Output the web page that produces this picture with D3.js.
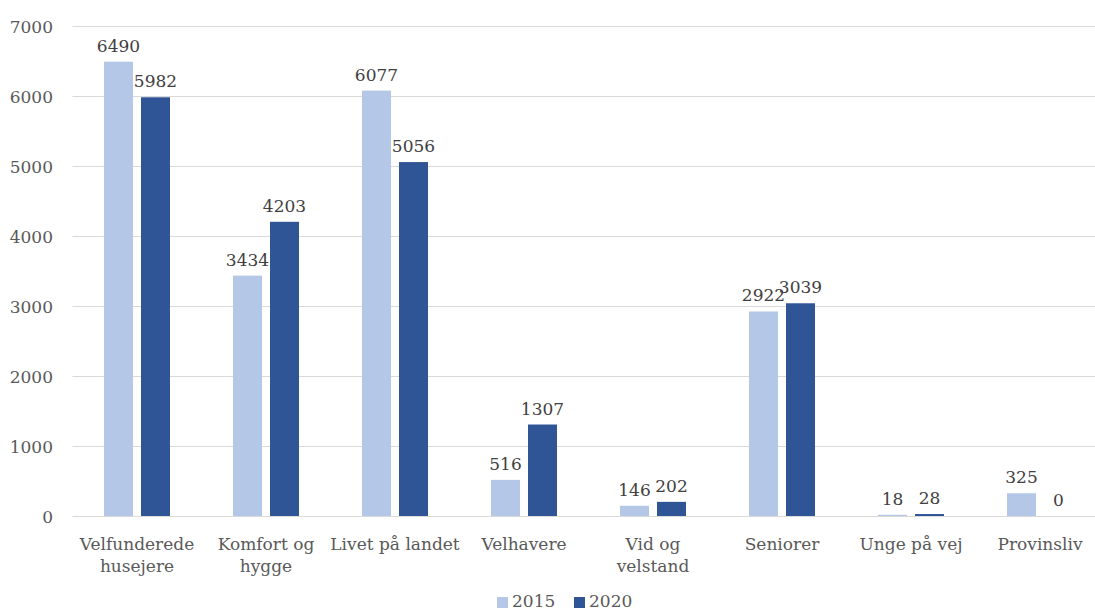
<!DOCTYPE html>
<html>
<head>
<meta charset="utf-8">
<script src="https://cdn.jsdelivr.net/npm/d3@7"></script>
<style>
  html, body { margin: 0; padding: 0; background: #fff; }
  svg { display: block; font-family: 'DejaVu Serif', serif; }
</style>
</head>
<body>
<svg id="chart" width="1095" height="610"></svg>
<script>
// chart data
const categories = [
  ['Velfunderede', 'husejere'],
  ['Komfort og', 'hygge'],
  ['Livet på landet'],
  ['Velhavere'],
  ['Vid og', 'velstand'],
  ['Seniorer'],
  ['Unge på vej'],
  ['Provinsliv'],
];
const seriesNames = ['2015', '2020'];
const values2015 = [6490, 3434, 6077, 516, 146, 2922, 18, 325];
const values2020 = [5982, 4203, 5056, 1307, 202, 3039, 28, 0];
const yTicks = [0, 1000, 2000, 3000, 4000, 5000, 6000, 7000];

const colors = ['#B4C7E7', '#2F5597'];

const svg = d3.select('#chart');
const plot = { left: 72.5, right: 1104.5, top: 26, bottom: 516 };

const x = d3.scaleBand()
  .domain(d3.range(categories.length))
  .range([plot.left, plot.right]);

const y = d3.scaleLinear()
  .domain([0, 7000])
  .range([plot.bottom, plot.top]);

const barW = 29;
const gap = 8;

// gridlines
svg.append('g')
  .selectAll('line')
  .data(yTicks)
  .enter()
  .append('line')
  .attr('x1', plot.left)
  .attr('x2', 1095)
  .attr('y1', (d) => Math.round(y(d)) + 0.5)
  .attr('y2', (d) => Math.round(y(d)) + 0.5)
  .style('stroke', '#d9d9d9')
  .style('stroke-width', 1);

// y axis labels
const yAxis = d3.axisLeft(y).tickValues(yTicks).tickFormat(d3.format('d')).tickSize(0).tickPadding(0);
const yg = svg.append('g')
  .attr('transform', 'translate(53,0)')
  .call(yAxis);
yg.select('.domain').remove();
yg.selectAll('text')
  .attr('font-family', 'DejaVu Serif')
  .attr('font-size', '17px')
  .attr('fill', '#595959')
  .attr('dy', '0.36em');

// bars
const series = [values2015, values2020];
series.forEach((vals, si) => {
  const xOff = (i) => x(i) + x.bandwidth() / 2 + (si === 0 ? -gap / 2 - barW : gap / 2);
  svg.append('g')
    .selectAll('rect')
    .data(vals)
    .enter()
    .append('rect')
    .attr('x', (d, i) => xOff(i))
    .attr('y', (d) => y(d))
    .attr('width', barW)
    .attr('height', (d) => y(0) - y(d))
    .style('fill', colors[si]);

  // data labels
  svg.append('g')
    .selectAll('text')
    .data(vals)
    .enter()
    .append('text')
    .attr('x', (d, i) => xOff(i) + barW / 2)
    .attr('y', (d) => y(d) - 10)
    .attr('text-anchor', 'middle')
    .attr('font-size', '17px')
    .attr('fill', '#404040')
    .text((d) => d);
});

// category labels
const catG = svg.append('g')
  .selectAll('text')
  .data(categories)
  .enter()
  .append('text')
  .attr('x', (d, i) => x(i) + x.bandwidth() / 2)
  .attr('y', 550)
  .attr('text-anchor', 'middle')
  .attr('font-size', '17px')
  .attr('fill', '#595959');
catG.selectAll('tspan')
  .data((d) => d)
  .enter()
  .append('tspan')
  .attr('x', function () { return d3.select(this.parentNode).attr('x'); })
  .attr('dy', (d, i) => (i === 0 ? 0 : 22))
  .text((d) => d);

// legend
const legendX = [497, 574];
const legend = svg.append('g');
seriesNames.forEach((name, i) => {
  legend.append('rect')
    .attr('x', legendX[i])
    .attr('y', 597)
    .attr('width', 11)
    .attr('height', 11)
    .style('fill', colors[i]);
  legend.append('text')
    .attr('x', legendX[i] + 15)
    .attr('y', 607)
    .attr('font-size', '17px')
    .attr('fill', '#595959')
    .text(name);
});
</script>
</body>
</html>
